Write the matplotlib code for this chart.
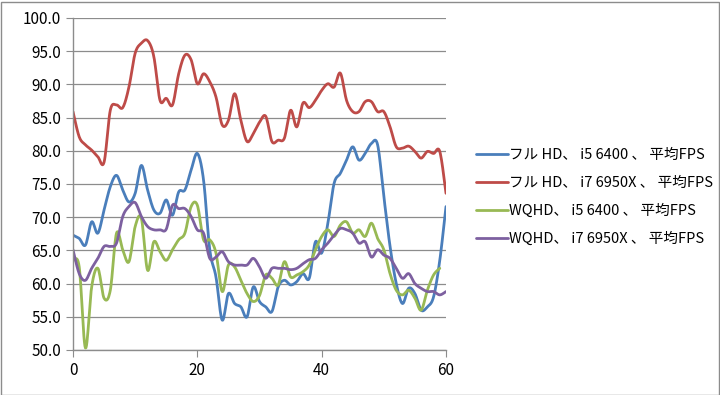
import numpy as np
import matplotlib
matplotlib.use("Agg")
import matplotlib.pyplot as plt
from matplotlib.patches import Rectangle

plt.rcParams['font.family'] = ['Noto Sans CJK JP', 'DejaVu Sans']

x = np.arange(61)

fhd_i5 = [67.3, 66.8, 65.8, 69.3, 67.6, 71.1, 74.6, 76.3, 74.1, 72.3,
          73.6, 77.8, 74.1, 71.1, 70.6, 72.6, 70.3, 73.8, 74.1, 77.1,
          79.6, 75.6, 65.1, 61.0, 54.5, 58.5, 57.0, 56.5, 55.0, 59.5,
          57.3, 56.5, 55.8, 59.5, 60.5, 59.8, 60.3, 61.5, 60.8, 66.3,
          64.6, 69.1, 75.1, 76.6, 78.6, 80.6, 78.6, 79.6, 81.1, 80.9,
          73.1, 65.6, 60.0, 57.0, 59.3, 58.5, 56.0, 56.5, 58.0, 63.5,
          71.6]
fhd_i7 = [85.9, 82.1, 80.9, 80.1, 79.1, 78.3, 86.1, 86.9, 86.5, 89.6,
          94.7, 96.2, 96.6, 94.2, 87.6, 87.9, 86.9, 91.6, 94.4, 93.7,
          90.1, 91.6, 90.4, 88.1, 83.9, 84.6, 88.6, 84.6, 81.4, 82.6,
          84.3, 85.2, 81.4, 81.6, 81.9, 86.1, 83.6, 87.2, 86.5, 87.6,
          89.1, 90.1, 89.6, 91.7, 87.6, 85.9, 85.9, 87.4, 87.4, 85.9,
          85.9, 83.6, 80.6, 80.4, 80.7, 79.9, 78.9, 79.9, 79.6, 79.9,
          73.6]
wqhd_i5 = [63.5, 62.5, 50.3, 59.5, 62.3, 57.8, 59.0, 67.6, 65.1, 63.3,
           68.6, 69.8, 62.0, 66.3, 64.8, 63.5, 65.1, 66.6, 67.6, 71.6,
           71.8, 66.6, 66.6, 64.6, 58.8, 62.8, 62.5, 60.5, 58.5, 57.3,
           58.2, 61.3, 60.8, 59.8, 63.3, 61.0, 61.3, 61.8, 62.8, 65.1,
           67.1, 68.1, 67.1, 68.8, 69.3, 67.6, 68.1, 67.1, 69.1, 66.8,
           65.1, 61.5, 59.0, 58.3, 59.0, 57.8, 56.0, 59.0, 61.3, 62.3,
           np.nan]
wqhd_i7 = [65.1, 61.5, 60.5, 62.3, 63.8, 65.6, 65.6, 66.1, 70.1, 71.6,
           72.2, 70.1, 68.6, 68.1, 68.1, 68.2, 71.8, 71.3, 71.3, 70.1,
           68.1, 67.6, 63.8, 64.0, 64.8, 63.3, 62.8, 62.8, 62.8, 63.8,
           62.5, 60.8, 62.3, 62.3, 62.3, 62.1, 62.3, 63.0, 63.6, 63.8,
           65.1, 66.1, 67.3, 68.3, 68.1, 67.6, 66.1, 66.3, 64.0, 65.1,
           64.3, 63.8, 62.3, 60.8, 61.5, 60.0, 59.3, 58.8, 58.8, 58.3,
           58.8]

labels = ["フル HD、 i5 6400 、 平均FPS",
          "フル HD、 i7 6950X 、 平均FPS",
          "WQHD、 i5 6400 、 平均FPS",
          "WQHD、 i7 6950X 、 平均FPS"]
colors = ["#4A7EBB", "#BE4B48", "#98B954", "#7D60A0"]


def smooth(xs, ys, n=12):
    # Catmull-Rom through the points, like Excel's smoothed line
    xs = np.asarray(xs, float)
    ys = np.asarray(ys, float)
    ok = ~np.isnan(ys)
    xs, ys = xs[ok], ys[ok]
    px = np.concatenate([[xs[0]], xs, [xs[-1]]])
    py = np.concatenate([[ys[0]], ys, [ys[-1]]])
    t = np.linspace(0, 1, n, endpoint=False)
    outx, outy = [], []
    for i in range(1, len(px) - 2):
        for p, out in ((px, outx), (py, outy)):
            p0, p1, p2, p3 = p[i - 1], p[i], p[i + 1], p[i + 2]
            out.extend(0.5 * (2 * p1 + (-p0 + p2) * t
                              + (2 * p0 - 5 * p1 + 4 * p2 - p3) * t ** 2
                              + (-p0 + 3 * p1 - 3 * p2 + p3) * t ** 3))
    outx.append(xs[-1])
    outy.append(ys[-1])
    return np.array(outx), np.array(outy)


fig = plt.figure(figsize=(7.2, 3.95), dpi=100)
ax = fig.add_axes([73 / 720, 1 - 350 / 395, 373 / 720, 332 / 395])

for ys, c, lab in zip([fhd_i5, fhd_i7, wqhd_i5, wqhd_i7], colors, labels):
    sx, sy = smooth(x, ys)
    ax.plot(sx, sy, color=c, lw=2.0, label=lab, solid_capstyle='round')

ax.set_xlim(0, 60)
ax.set_ylim(50, 100)
ax.set_xticks([0, 20, 40, 60])
ax.set_yticks(np.arange(50, 100.1, 5))
ax.set_yticklabels([f"{v:.1f}" for v in np.arange(50, 100.1, 5)])
ax.grid(axis='y', color='#8c8c8c', lw=0.9)
ax.set_axisbelow(True)
for s in ['top', 'right']:
    ax.spines[s].set_visible(False)
for s in ['left', 'bottom']:
    ax.spines[s].set_color('#8c8c8c')
    ax.spines[s].set_linewidth(1.0)
ax.tick_params(colors='#8c8c8c', labelcolor='black', labelsize=11, length=5)

ax.legend(loc='center left', bbox_to_anchor=(1.045, 0.46), frameon=False,
          fontsize=10.5, handlelength=2.2, handletextpad=0.1, labelspacing=0.95)

fig.patches.append(Rectangle((0.5 / 720, 0.5 / 395), 718 / 720, 393 / 395,
                             transform=fig.transFigure, fill=False,
                             edgecolor='#8c8c8c', lw=1))

fig.savefig("out.png", dpi=100)
